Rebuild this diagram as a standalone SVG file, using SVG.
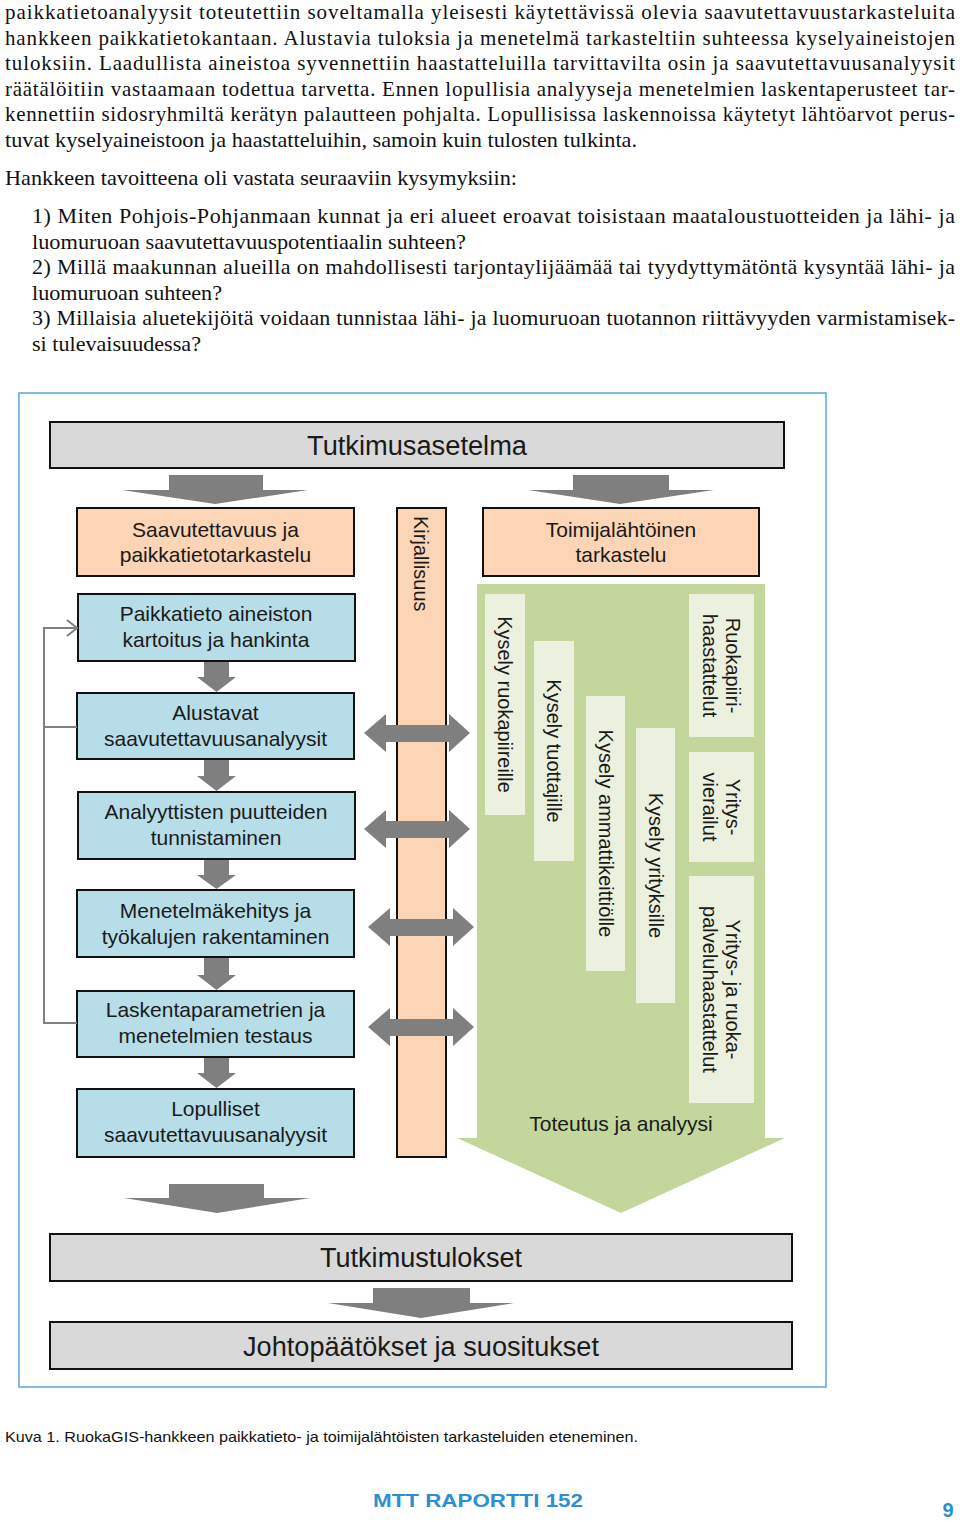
<svg xmlns="http://www.w3.org/2000/svg" width="960" height="1522" viewBox="0 0 960 1522">
<style>
.body{font-family:"Liberation Serif","Times New Roman",serif;font-size:21px;fill:#111}
.lst{font-family:"Liberation Serif","Times New Roman",serif;font-size:22px;fill:#111}
.lbl{font-family:"Liberation Sans",Arial,sans-serif;font-size:21px;fill:#1a1a1a;text-anchor:middle}
.big{font-size:27px}
.rot{font-family:"Liberation Sans",Arial,sans-serif;font-size:20px;fill:#1a1a1a;text-anchor:middle}
.peach{fill:#fbd5b5;stroke:#111;stroke-width:2}
.blue{fill:#b7dde8;stroke:#111;stroke-width:2}
.gray{fill:#d9d9d9;stroke:#111;stroke-width:2}
.pale{fill:#ebf1de}
.arr{fill:#7f7f7f}
.fb{fill:none;stroke:#808080;stroke-width:2}
</style>
<rect width="960" height="1522" fill="#fff"/>

<g id="bodytext">
<text class="body" x="5" y="19" textLength="950" lengthAdjust="spacing">paikkatietoanalyysit toteutettiin soveltamalla yleisesti käytettävissä olevia saavutettavuustarkasteluita</text>
<text class="body" x="5" y="44.5" textLength="950" lengthAdjust="spacing">hankkeen paikkatietokantaan. Alustavia tuloksia ja menetelmä tarkasteltiin suhteessa kyselyaineistojen</text>
<text class="body" x="5" y="70" textLength="950" lengthAdjust="spacing">tuloksiin. Laadullista aineistoa syvennettiin haastatteluilla tarvittavilta osin ja saavutettavuusanalyysit</text>
<text class="body" x="5" y="95.5" textLength="950" lengthAdjust="spacing">räätälöitiin vastaamaan todettua tarvetta. Ennen lopullisia analyyseja menetelmien laskentaperusteet tar-</text>
<text class="body" x="5" y="121" textLength="950" lengthAdjust="spacing">kennettiin sidosryhmiltä kerätyn palautteen pohjalta. Lopullisissa laskennoissa käytetyt lähtöarvot perus-</text>
<text class="body" x="5" y="146.5" textLength="632" lengthAdjust="spacingAndGlyphs">tuvat kyselyaineistoon ja haastatteluihin, samoin kuin tulosten tulkinta.</text>
<text class="body" x="5" y="185" textLength="512" lengthAdjust="spacingAndGlyphs">Hankkeen tavoitteena oli vastata seuraaviin kysymyksiin:</text>
<text class="lst" x="32" y="223" textLength="923" lengthAdjust="spacing">1) Miten Pohjois-Pohjanmaan kunnat ja eri alueet eroavat toisistaan maataloustuotteiden ja lähi- ja</text>
<text class="lst" x="32" y="248.5" textLength="434" lengthAdjust="spacingAndGlyphs">luomuruoan saavutettavuuspotentiaalin suhteen?</text>
<text class="lst" x="32" y="274" textLength="923" lengthAdjust="spacing">2) Millä maakunnan alueilla on mahdollisesti tarjontaylijäämää tai tyydyttymätöntä kysyntää lähi- ja</text>
<text class="lst" x="32" y="299.5" textLength="190" lengthAdjust="spacingAndGlyphs">luomuruoan suhteen?</text>
<text class="lst" x="32" y="325" textLength="923" lengthAdjust="spacing">3) Millaisia aluetekijöitä voidaan tunnistaa lähi- ja luomuruoan tuotannon riittävyyden varmistamisek-</text>
<text class="lst" x="32" y="350.5" textLength="169" lengthAdjust="spacingAndGlyphs">si tulevaisuudessa?</text>
</g>

<rect id="frame" x="19" y="393" width="807" height="994" fill="none" stroke="#5aa7d6" stroke-width="1.5"/>

<g id="toteutus">
<polygon points="477,584 765,584 765,1138 785,1138 621,1213 457,1138 477,1138" fill="#c3d69b"/>
<text class="lbl" x="621" y="1131">Toteutus ja analyysi</text>
</g>

<g id="tutkimusasetelma">
<rect class="gray" x="50" y="422" width="734" height="46"/>
<text class="lbl big" x="417" y="455" textLength="220" lengthAdjust="spacingAndGlyphs">Tutkimusasetelma</text>
</g>

<g id="saavutettavuus">
<rect class="peach" x="77" y="508" width="277" height="68"/>
<text class="lbl" x="215.5" y="537">Saavutettavuus ja</text>
<text class="lbl" x="215.5" y="562">paikkatietotarkastelu</text>
</g>

<g id="toimijalahtoinen">
<rect class="peach" x="483" y="508" width="276" height="68"/>
<text class="lbl" x="621" y="537">Toimijalähtöinen</text>
<text class="lbl" x="621" y="562">tarkastelu</text>
</g>

<g id="kirjallisuus">
<rect class="peach" x="397" y="508" width="49" height="649"/>
<text class="rot" transform="translate(421,516) rotate(90)" x="0" y="7" style="text-anchor:start">Kirjallisuus</text>
</g>

<g id="paikkatieto">
<rect class="blue" x="78" y="594" width="277" height="67"/>
<text class="lbl" x="216" y="621">Paikkatieto aineiston</text>
<text class="lbl" x="216" y="647">kartoitus ja hankinta</text>
</g>

<g id="alustavat">
<rect class="blue" x="77" y="693" width="277" height="66"/>
<text class="lbl" x="215.5" y="720">Alustavat</text>
<text class="lbl" x="215.5" y="746">saavutettavuusanalyysit</text>
</g>

<g id="analyyttisten">
<rect class="blue" x="78" y="792" width="277" height="67"/>
<text class="lbl" x="216" y="819">Analyyttisten puutteiden</text>
<text class="lbl" x="216" y="845">tunnistaminen</text>
</g>

<g id="menetelmakehitys">
<rect class="blue" x="77" y="890" width="277" height="67"/>
<text class="lbl" x="215.5" y="918">Menetelmäkehitys ja</text>
<text class="lbl" x="215.5" y="944">työkalujen rakentaminen</text>
</g>

<g id="laskenta">
<rect class="blue" x="77" y="991" width="277" height="66"/>
<text class="lbl" x="215.5" y="1017">Laskentaparametrien ja</text>
<text class="lbl" x="215.5" y="1043">menetelmien testaus</text>
</g>

<g id="lopulliset">
<rect class="blue" x="77" y="1089" width="277" height="68"/>
<text class="lbl" x="215.5" y="1116">Lopulliset</text>
<text class="lbl" x="215.5" y="1142">saavutettavuusanalyysit</text>
</g>

<g id="kysely-ruokapiireille">
<rect class="pale" x="485" y="594" width="40" height="221"/>
<text class="rot" transform="translate(505,704.5) rotate(90)" y="7">Kysely ruokapiireille</text>
</g>
<g id="kysely-tuottajille">
<rect class="pale" x="534" y="641" width="40" height="220"/>
<text class="rot" transform="translate(554,751) rotate(90)" y="7">Kysely tuottajille</text>
</g>
<g id="kysely-ammattikeittiolle">
<rect class="pale" x="586" y="696" width="39" height="275"/>
<text class="rot" transform="translate(605.5,833.5) rotate(90)" y="7">Kysely ammattikeittiölle</text>
</g>
<g id="kysely-yrityksille">
<rect class="pale" x="636" y="728" width="39" height="275"/>
<text class="rot" transform="translate(655.5,865.5) rotate(90)" y="7">Kysely yrityksille</text>
</g>
<g id="ruokapiirihaastattelut">
<rect class="pale" x="689" y="594" width="65" height="143"/>
<text class="rot" transform="translate(721.5,665.5) rotate(90)"><tspan x="0" y="-4.5">Ruokapiiri-</tspan><tspan x="0" y="18.5">haastattelut</tspan></text>
</g>
<g id="yritysvierailut">
<rect class="pale" x="689" y="752" width="65" height="110"/>
<text class="rot" transform="translate(721.5,807) rotate(90)"><tspan x="0" y="-4.5">Yritys-</tspan><tspan x="0" y="18.5">vierailut</tspan></text>
</g>
<g id="palveluhaastattelut">
<rect class="pale" x="689" y="876" width="65" height="227"/>
<text class="rot" transform="translate(721.5,989.5) rotate(90)"><tspan x="0" y="-4.5">Yritys- ja ruoka-</tspan><tspan x="0" y="18.5">palveluhaastattelut</tspan></text>
</g>

<g id="tutkimustulokset">
<rect class="gray" x="50" y="1234" width="742" height="47"/>
<text class="lbl big" x="421" y="1267" textLength="202" lengthAdjust="spacingAndGlyphs">Tutkimustulokset</text>
</g>

<g id="johtopaatokset">
<rect class="gray" x="50" y="1322" width="742" height="47"/>
<text class="lbl big" x="421" y="1356" textLength="356" lengthAdjust="spacingAndGlyphs">Johtopäätökset ja suositukset</text>
</g>

<g id="connectors">
<polygon class="arr" points="169,475 263,475 263,490 308,490 215,504 122,490 169,490"/>
<polygon class="arr" points="573,475 669,475 669,490 714,490 620,504 528,490 573,490"/>
<polygon class="arr" points="169,1184 264,1184 264,1198 310,1198 217,1213 124,1198 169,1198"/>
<polygon class="arr" points="373,1288 470,1288 470,1303 514,1303 421,1318 328,1303 373,1303"/>
<polygon class="arr" points="204,662 229,662 229,677 236,677 216.5,692 197,677 204,677"/>
<polygon class="arr" points="204,760 229,760 229,776 236,776 216.5,791 197,776 204,776"/>
<polygon class="arr" points="204,860 229,860 229,875 236,875 216.5,889 197,875 204,875"/>
<polygon class="arr" points="204,958 229,958 229,975 236,975 216.5,990 197,975 204,975"/>
<polygon class="arr" points="204,1058 229,1058 229,1073 236,1073 216.5,1088 197,1073 204,1073"/>
<polygon class="arr" points="364,733 386,714 386,725 449,725 449,714 470,733 449,752 449,742 386,742 386,752"/>
<polygon class="arr" points="364,829 386,810 386,821 449,821 449,810 470,829 449,848 449,838 386,838 386,848"/>
<polygon class="arr" points="368,927 390,908 390,919 453,919 453,908 474,927 453,946 453,936 390,936 390,946"/>
<polygon class="arr" points="368,1027 390,1008 390,1019 453,1019 453,1008 474,1027 453,1046 453,1036 390,1036 390,1046"/>
<path class="fb" d="M77,1023 H44 V628 H77"/>
<path class="fb" d="M44,727 H77"/>
<path class="fb" d="M67,620 L77,628 L67,636"/>
</g>

<g id="caption">
<text x="5" y="1442" font-family="'Liberation Sans',Arial,sans-serif" font-size="15" fill="#111" textLength="633" lengthAdjust="spacingAndGlyphs">Kuva 1. RuokaGIS-hankkeen paikkatieto- ja toimijalähtöisten tarkasteluiden eteneminen.</text>
<text x="478" y="1507" font-family="'Liberation Sans',Arial,sans-serif" font-size="18" font-weight="bold" fill="#2b8fd3" text-anchor="middle" textLength="210" lengthAdjust="spacingAndGlyphs">MTT RAPORTTI 152</text>
<text x="948" y="1517" font-family="'Liberation Sans',Arial,sans-serif" font-size="20" font-weight="bold" fill="#2b8fd3" text-anchor="middle">9</text>
</g>
</svg>
